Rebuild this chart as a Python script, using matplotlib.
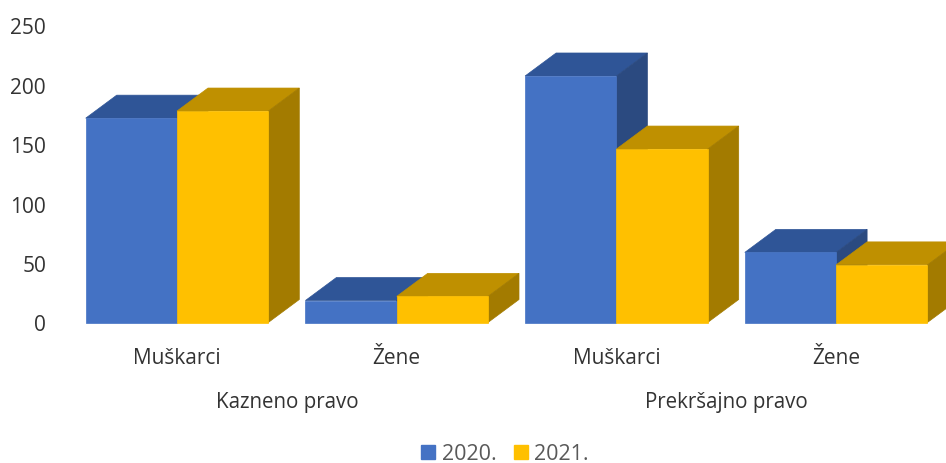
# 3D-style grouped bars, drawn by hand since the depth is only decoration
import matplotlib
matplotlib.use('Agg')
from matplotlib import pyplot as plt
from matplotlib.patches import Polygon, Patch

plt.rcParams['font.family'] = ['Open Sans', 'DejaVu Sans']

categories = ['Muškarci', 'Žene', 'Muškarci', 'Žene']
groups = ['Kazneno pravo', 'Prekršajno pravo']
series_names = ['2020.', '2021.']
values_2020 = [172, 18.5, 207.5, 59]
values_2021 = [178, 22, 146, 48.5]
y_ticks = [0, 50, 100, 150, 200, 250]

W, H = 946, 464
fig = plt.figure(figsize=(W / 100, H / 100), dpi=100)
# axes box in pixels: x 60..946, y 0 at 323.5, 250 at 26.5
ax = fig.add_axes([60 / W, (H - 323.5) / H, (W - 60) / W, 297 / H])
px_x = 219.7
px_y = 297 / 250
ax.set_xlim((60 - 177) / px_x, (946 - 177) / px_x)
ax.set_ylim(0, 250)

bar_w = 91.3 / px_x
dx = 31 / px_x
dy = 23 / px_y


def bar3d(x, val, front, top, side):
    ax.add_patch(Polygon([(x, val), (x + dx, val + dy), (x + bar_w + dx, val + dy), (x + bar_w, val)],
                         closed=True, fc=top, ec=top, lw=0.5, zorder=3, clip_on=False))
    ax.add_patch(Polygon([(x + bar_w, 0), (x + bar_w + dx, dy), (x + bar_w + dx, val + dy), (x + bar_w, val)],
                         closed=True, fc=side, ec=side, lw=0.5, zorder=3, clip_on=False))
    ax.bar(x, val, bar_w, align='edge', color=front, edgecolor=front, linewidth=0.5, zorder=3, clip_on=False)


for i in range(len(categories)):
    bar3d(i - bar_w, values_2020[i], '#4472C4', '#2F5597', '#2B4A80')
    bar3d(i, values_2021[i], '#FFC000', '#BF9000', '#A37B00')

for s in ax.spines.values():
    s.set_visible(False)
ax.patch.set_visible(False)
ax.set_yticks(y_ticks)
ax.set_xticks(range(len(categories)))
ax.set_xticklabels(categories)
ax.tick_params(axis='both', length=0, labelsize=15, colors='#333333')
ax.tick_params(axis='x', pad=17.5)
ax.tick_params(axis='y', pad=10)

ax.text(0.5, -0.267, groups[0], fontsize=14.8, color='#333333', ha='center', va='center',
        transform=ax.get_xaxis_transform())
ax.text(2.5, -0.267, groups[1], fontsize=14.8, color='#333333', ha='center', va='center',
        transform=ax.get_xaxis_transform())

handles = [Patch(color='#4472C4'), Patch(color='#FFC000')]
fig.legend(handles, series_names, ncol=2, loc='center', bbox_to_anchor=(505 / W, 1 - 455 / H),
           frameon=False, fontsize=15.5, labelcolor='#595959', handlelength=0.65, handleheight=0.65,
           handletextpad=0.29, columnspacing=0.8, borderpad=0)

fig.savefig('out.png', dpi=100)
